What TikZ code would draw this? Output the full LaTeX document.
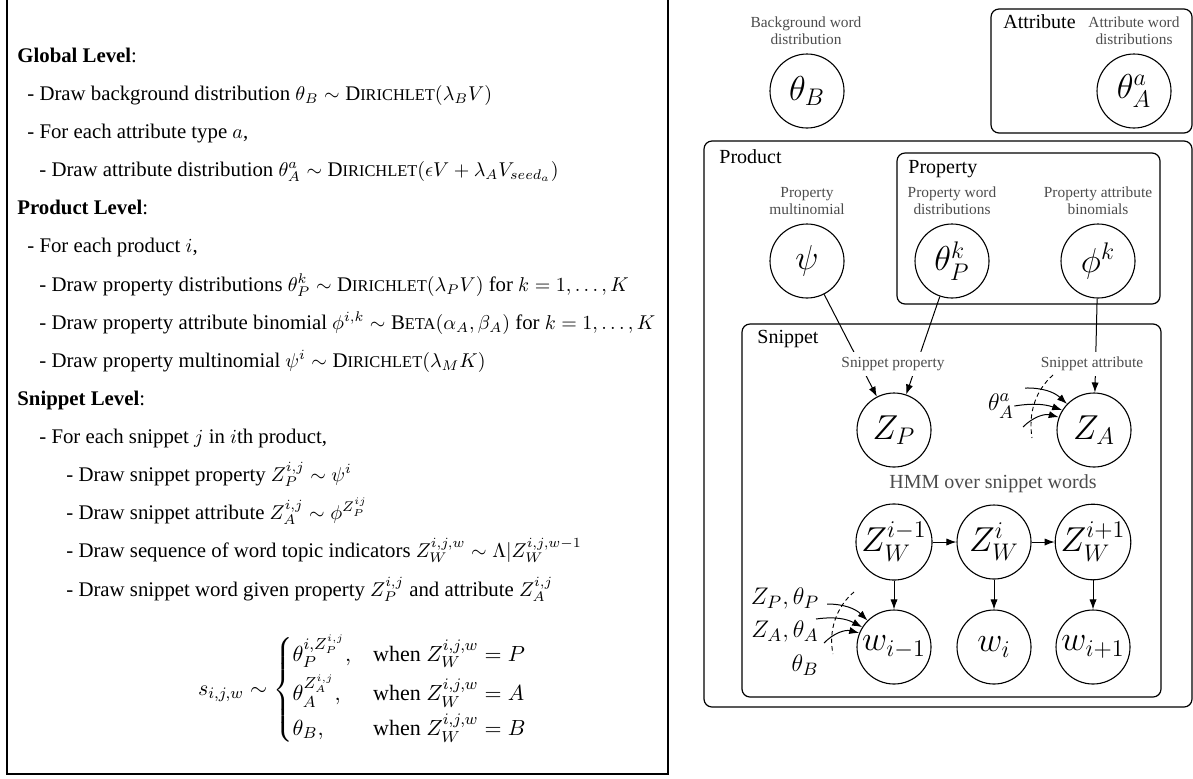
\documentclass[tikz,border=0pt]{standalone}
\usepackage{amsmath}
\usepackage[no-math]{fontspec}
\setmainfont{Liberation Serif}
\usetikzlibrary{arrows.meta}
\newcommand{\SCDir}{\textrm{D{\fontsize{8.2}{10}\selectfont IRICHLET}}}
\newcommand{\SCBeta}{\textrm{B{\fontsize{8.2}{10}\selectfont ETA}}}
\tikzset{
  txt/.style={anchor=base west, inner sep=0pt, font=\fontsize{10.4}{12.5}\selectfont},
  var/.style={circle, draw, line width=0.55pt, minimum size=37pt, inner sep=0pt, font=\LARGE},
  plate/.style={draw, rounded corners=4pt, line width=0.6pt},
  capt/.style={font=\fontsize{7.7}{8.6}\selectfont, text=black!70, align=center, inner sep=1pt},
  platelabel/.style={anchor=base west, inner sep=0pt, font=\fontsize{10}{12}\selectfont},
  arr/.style={-{Latex[length=5pt,width=3.6pt]}, line width=0.5pt},
  dsh/.style={dashed, dash pattern=on 2.2pt off 1.6pt, line width=0.45pt},
  mlab/.style={inner sep=0pt, font=\fontsize{12.5}{14}\selectfont}
}
\begin{document}
\begin{tikzpicture}[x=0.5pt,y=-0.5pt]
\useasboundingbox (0,0) rectangle (1193,778);
% ---------- left panel ----------
\draw[line width=0.7pt] (7,0) -- (7,774) -- (668,774) -- (668,0);
\node[txt] (l0) at (17,62) {\textbf{Global Level}:};
\node[txt] (l1) at (27,100) {- Draw background distribution $\theta_B \sim \SCDir(\lambda_B V)$};
\node[txt] (l2) at (27,138) {- For each attribute type $a$,};
\node[txt] (l3) at (39,176) {- Draw attribute distribution $\theta_A^a \sim \SCDir(\epsilon V + \lambda_A V_{seed_a})$};
\node[txt] (l4) at (17,214) {\textbf{Product Level}:};
\node[txt] (l5) at (27,252) {- For each product $i$,};
\node[txt] (l6) at (39,291) {- Draw property distributions $\theta_P^k \sim \SCDir(\lambda_P V)$ for $k=1,\ldots,K$};
\node[txt] (l7) at (39,329) {- Draw property attribute binomial $\phi^{i,k}\sim\SCBeta(\alpha_A,\beta_A)$ for $k=1,\ldots,K$};
\node[txt] (l8) at (39,367) {- Draw property multinomial $\psi^i \sim \SCDir(\lambda_M K)$};
\node[txt] (l9) at (17,405) {\textbf{Snippet Level}:};
\node[txt] (l10) at (39,443) {- For each snippet $j$ in $i$th product,};
\node[txt] (l11) at (66,481) {- Draw snippet property $Z_P^{i,j}\sim\psi^i$};
\node[txt] (l12) at (66,519) {- Draw snippet attribute $Z_A^{i,j}\sim\phi^{Z_P^{ij}}$};
\node[txt] (l13) at (66,557) {- Draw sequence of word topic indicators $Z_W^{i,j,w}\sim\Lambda|Z_W^{i,j,w-1}$};
\node[txt] (l14) at (66,596) {- Draw snippet word given property $Z_P^{i,j}$ and attribute $Z_A^{i,j}$};
\node[inner sep=0pt, font=\fontsize{11}{13}\selectfont] (eq) at (363,690) {$s_{i,j,w}\sim\begin{cases}
\theta_P^{i,Z_P^{i,j}}, & \text{when } Z_W^{i,j,w}=P\\[2pt]
\theta_A^{Z_A^{i,j}}, & \text{when } Z_W^{i,j,w}=A\\[2pt]
\theta_B, & \text{when } Z_W^{i,j,w}=B
\end{cases}$};
% ---------- right panel: plates ----------
\draw[plate] (991,9) rectangle (1192,133);
\draw[plate] (704,141) rectangle (1192,707);
\draw[plate] (897,153) rectangle (1160,304);
\draw[plate] (742,324) rectangle (1161,697);
\node[platelabel] (pA) at (1003,28) {Attribute};
\node[platelabel] (pPr) at (719,163) {Product};
\node[platelabel] (pPy) at (908,173) {Property};
\node[platelabel] (pS) at (757,343) {Snippet};
% captions
\node[capt] (cB) at (806,31) {Background word\\distribution};
\node[capt] (cA) at (1134,31) {Attribute word\\distributions};
\node[capt] (cM) at (807,201) {Property\\multinomial};
\node[capt] (cW) at (952,201) {Property word\\distributions};
\node[capt] (cF) at (1098,201) {Property attribute\\binomials};
\node[font=\fontsize{10}{12}\selectfont, text=black!70] (hmm) at (993,484) {HMM over snippet words};
% variables
\node[var] (thB) at (807,91) {$\theta_B$};
\node[var] (thA) at (1134,91) {$\theta_A^a$};
\node[var] (psi) at (807,261) {$\psi$};
\node[var] (thP) at (952,261) {$\theta_P^k$};
\node[var] (phi) at (1098,261) {$\phi^k$};
\node[var] (ZP) at (894,430) {$Z_P$};
\node[var] (ZA) at (1094,430) {$Z_A$};
\node[var] (Z1) at (894,542) {$Z_W^{i-1}$};
\node[var] (Z2) at (994,542) {$Z_W^{i}$};
\node[var] (Z3) at (1093,542) {$Z_W^{i+1}$};
\node[var] (w1) at (894,647) {$w_{i-1}$};
\node[var] (w2) at (994,647) {$w_{i}$};
\node[var] (w3) at (1093,647) {$w_{i+1}$};
% edges
\draw[arr] (psi) -- (ZP);
\draw[arr] (thP) -- (ZP);
\draw[arr] (phi) -- (ZA);
\node[capt, fill=white, inner sep=2.5pt] (sp) at (893,364) {Snippet property};
\node[capt, fill=white, inner sep=2.5pt] (sa) at (1092,364) {Snippet attribute};
\draw[arr] (Z1) -- (Z2);
\draw[arr] (Z2) -- (Z3);
\draw[arr] (Z1) -- (w1);
\draw[arr] (Z2) -- (w2);
\draw[arr] (Z3) -- (w3);
% theta_A^a into Z_A
\node[mlab] (tAa) at (1001,406) {$\theta_A^a$};
\coordinate (ta1) at (1025,388);
\coordinate (ta3) at (1023,427);
\draw[arr] (ta1) to[bend left=22] (ZA.136);
\draw[arr] (tAa.east) to[bend left=14] (ZA.148);
\draw[arr] (ta3) to[bend left=30] (ZA.160);
\draw[dsh] (1053,375) .. controls (1036,390) and (1028,412) .. (1032,438);
% inputs into w_{i-1}
\node[mlab] (lb1) at (785,598) {$Z_P,\theta_P$};
\node[mlab] (lb2) at (785,631) {$Z_A,\theta_A$};
\node[mlab] (lb3) at (805,665) {$\theta_B$};
\coordinate (wa1) at (827,604);
\coordinate (wa2) at (816,619);
\coordinate (wa3) at (824,643);
\draw[arr] (wa1) to[bend left=22] (w1.135);
\draw[arr] (wa2) to[bend left=18] (w1.148);
\draw[arr] (wa3) to[bend left=30] (w1.158);
\draw[dsh] (854,592) .. controls (837,606) and (828,630) .. (833,654);
\end{tikzpicture}
\end{document}
